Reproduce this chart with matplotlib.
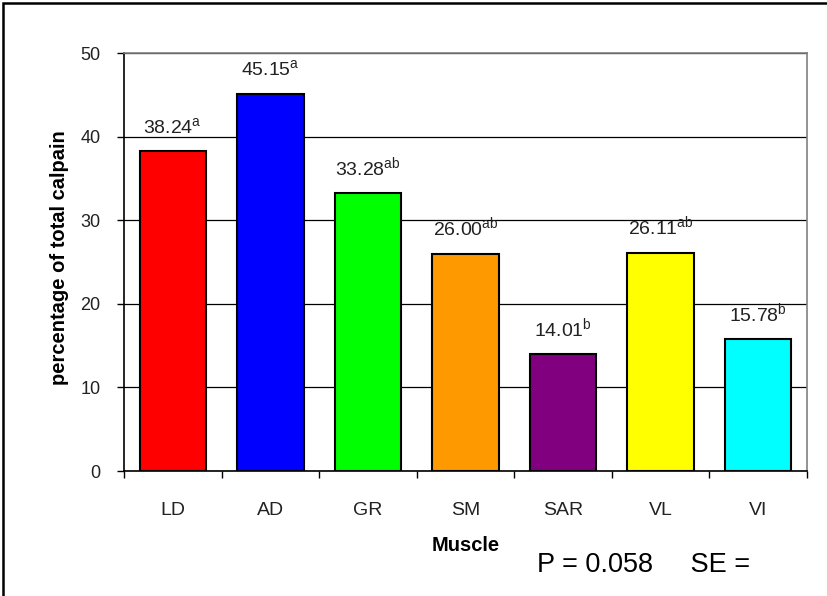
import matplotlib.pyplot as plt
from matplotlib.patches import Rectangle

plt.rcParams['font.family'] = 'Liberation Sans'
plt.rcParams['mathtext.fontset'] = 'custom'
plt.rcParams['mathtext.rm'] = 'Liberation Sans'

# === Data ===
muscles = ["LD", "AD", "GR", "SM", "SAR", "VL", "VI"]
values = [38.24, 45.15, 33.28, 26.00, 14.01, 26.11, 15.78]
letters = ["a", "a", "ab", "ab", "b", "ab", "b"]
colors = ["#FF0000", "#0000FF", "#00FF00", "#FF9900", "#800080", "#FFFF00", "#00FFFF"]
yticks = [0, 10, 20, 30, 40, 50]

# === Chart ===
fig = plt.figure(figsize=(8.27, 5.96), dpi=100)
ax = fig.add_axes([0.1499, 0.2097, 0.8259, 0.7013])

x = range(len(muscles))
ax.bar(x, values, width=0.68, color=colors, edgecolor='black', linewidth=1.5, zorder=3)

# value labels with significance letters
for i, (v, l) in enumerate(zip(values, letters)):
    ax.annotate(f"{v:.2f}$^{{\\rm {l}}}$", (i, v), xytext=(0, 9.5), textcoords='offset points',
                ha='center', va='bottom', fontsize=14, color='#222222')

ax.set_xlim(-0.5, len(muscles) - 0.5)
ax.set_ylim(0, 50)
ax.set_yticks(yticks)
ax.set_xticks(x)
ax.set_xticklabels(muscles, fontsize=14, color='#222222')
ax.tick_params(axis='x', length=0, pad=22)
ax.set_xticks([i + 0.5 for i in range(-1, len(muscles))], minor=True)
ax.tick_params(axis='x', which='minor', length=5, width=1, direction='out')
ax.tick_params(axis='y', length=5, width=1, labelsize=13, pad=12, labelcolor='#222222')

# Grid
ax.grid(axis='y', color='black', linewidth=0.9, zorder=0)
ax.set_axisbelow(True)

for side in ['top', 'right']:
    ax.spines[side].set_color('#808080')
    ax.spines[side].set_linewidth(1.2)
for side in ['left', 'bottom']:
    ax.spines[side].set_color('black')
    ax.spines[side].set_linewidth(1.2)

ax.set_ylabel("percentage of total calpain", fontsize=14.5, fontweight='bold')
ax.yaxis.set_label_coords(-0.08, 0.51)
ax.set_xlabel("Muscle", fontsize=14.5, fontweight='bold')
ax.xaxis.set_label_coords(0.5, -0.155)

fig.text(0.649, 0.052, "P = 0.058     SE =", fontsize=19.5, color='black', va='center')

# Outer frame
fig.patches.append(Rectangle((0.004, -0.01), 1.1, 1.005, transform=fig.transFigure,
                             fill=False, edgecolor='black', linewidth=1.8))

fig.savefig("out.png", dpi=100)
